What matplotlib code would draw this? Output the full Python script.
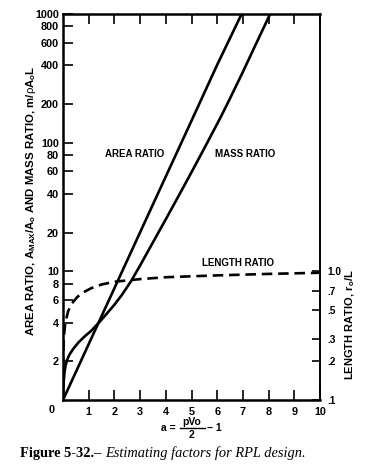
import numpy as np
import matplotlib
matplotlib.use('Agg')
import matplotlib.pyplot as plt

plt.rcParams['font.family'] = ['Liberation Sans', 'DejaVu Sans']
plt.rcParams['mathtext.fontset'] = 'custom'
plt.rcParams['mathtext.rm'] = 'Liberation Sans'
plt.rcParams['mathtext.it'] = 'Liberation Sans'
plt.rcParams['mathtext.bf'] = 'Liberation Sans:bold'

# area ratio A_max/A_o (left axis)
area_a = [0, 1, 2, 3, 4, 5, 6, 6.95]
area_y = [1, 2.72, 7.39, 20.1, 54.6, 148, 403, 1000]

# mass ratio m/pA_oL (left axis)
mass_a = [0, 0.01, 0.03, 0.06, 0.1, 0.16, 0.25, 0.4, 0.6, 0.85, 1.1, 1.24, 1.4, 1.6, 2.0, 2.3, 2.65,
          3.0, 3.5, 4.0, 4.5, 5.0, 5.5, 6.13, 6.5, 7.0, 7.5, 8.06]
mass_y = [1, 1.2, 1.42, 1.65, 1.85, 2.05, 2.25, 2.5, 2.8, 3.13, 3.45, 3.7, 4.0, 4.44, 5.5, 6.6, 8.4,
          11.1, 16.8, 25.4, 38.6, 58.9, 90.6, 157, 221, 355, 580, 1000]

# length ratio r_o/L (right axis)
len_a = [0, 0.01, 0.03, 0.07, 0.13, 0.2, 0.3, 0.4, 0.55, 0.75, 1.1, 1.5, 2.0, 3.0, 4.0, 6.0, 8.0, 10.0]
len_r = [0.1, 0.22, 0.3, 0.37, 0.43, 0.49, 0.54, 0.58, 0.63, 0.68, 0.74, 0.79, 0.83, 0.87, 0.9, 0.93, 0.955, 0.975]

left_ticks = [2, 4, 6, 8, 10, 20, 40, 60, 80, 100, 200, 400, 600, 800, 1000]
right_ticks = [0.1, 0.2, 0.3, 0.5, 0.7, 1.0]
right_labels = ['.1', '.2', '.3', '.5', '.7', '1.0']

fig = plt.figure(figsize=(3.83, 4.65), dpi=100)
ax = fig.add_axes([63/383, 65/465, 257/383, 386/465])

ax.plot(area_a, area_y, color='black', lw=1.9, solid_capstyle='butt')
ax.plot(mass_a, mass_y, color='black', lw=1.9)
ax.set_yscale('log')
ax.set_xlim(0, 10)
ax.set_ylim(1, 1000)
ax.set_yticks(left_ticks)
ax.set_yticklabels([str(t) for t in left_ticks])
ax.minorticks_off()
ax.set_xticks(range(1, 11))
ax.set_xticklabels([str(i) for i in range(1, 11)])
ax.tick_params(axis='both', direction='in', length=7, width=1.2, labelsize=7.8, pad=3)
ax.tick_params(axis='x', top=True, pad=5)
for lab in ax.get_xticklabels() + ax.get_yticklabels():
    lab.set_fontweight('bold')
fig.text(52/383, 1 - 410/465, '0', fontsize=7.8, fontweight='bold', ha='center', va='center')

for side in ['left', 'bottom', 'top']:
    ax.spines[side].set_linewidth(1.8)
ax.spines['right'].set_linewidth(1.4)

ax2 = ax.twinx()
ax2.plot(len_a, len_r, color='black', lw=1.9, dashes=(4, 2.2))
ax2.set_yscale('log')
ax2.set_ylim(0.1, 100)
ax2.set_yticks(right_ticks)
ax2.set_yticklabels(right_labels)
ax2.minorticks_off()
ax2.tick_params(axis='y', direction='in', length=6, width=1.2, labelsize=7.3, pad=5)
for lab in ax2.get_yticklabels():
    lab.set_fontweight('bold')
for side in ax2.spines:
    ax2.spines[side].set_visible(False)

ax.text(2.8, 82, 'AREA RATIO', fontsize=7, fontweight='bold', ha='center', va='center')
ax.text(7.1, 82, 'MASS RATIO', fontsize=7, fontweight='bold', ha='center', va='center')
ax.text(6.8, 11.6, 'LENGTH RATIO', fontsize=7, fontweight='bold', ha='center', va='center')

fig.text(31/383, 1 - 201/465, r'AREA RATIO, A$_{\mathbf{MAX}}$/A$_\mathbf{o}$ AND MASS RATIO, m/$\rho$A$_\mathbf{o}$L',
         rotation=90, fontsize=8.2, fontweight='bold', ha='center', va='center')
fig.text(350/383, 1 - 325/465, r'LENGTH RATIO, r$_\mathbf{o}$/L',
         rotation=90, fontsize=8, fontweight='bold', ha='center', va='center')

# x axis label a = pVo/2 - 1
fig.text(176/383, 1 - 428/465, 'a =', fontsize=7.5, fontweight='bold', ha='right', va='center')
fig.text(192/383, 1 - 421.5/465, 'pVo', fontsize=7.5, fontweight='bold', ha='center', va='center')
fig.text(192/383, 1 - 435/465, '2', fontsize=7.5, fontweight='bold', ha='center', va='center')
fig.add_artist(plt.Line2D([180/383, 205/383], [1 - 428/465, 1 - 428/465], color='black', lw=1.0))
fig.text(207/383, 1 - 428/465, '\u2212 1', fontsize=7.5, fontweight='bold', ha='left', va='center')

t1 = fig.text(20/383, 1 - 457/465, 'Figure 5-32.\u2013 ', fontsize=10.4, fontweight='bold',
              family=['Liberation Serif', 'DejaVu Serif'], ha='left', va='baseline')
ax.annotate('Estimating factors for RPL design.', xy=(1, 0), xycoords=t1,
            fontsize=10.4, fontstyle='italic', family=['Liberation Serif', 'DejaVu Serif'],
            ha='left', va='bottom', annotation_clip=False)

fig.savefig('out.png', dpi=100)
